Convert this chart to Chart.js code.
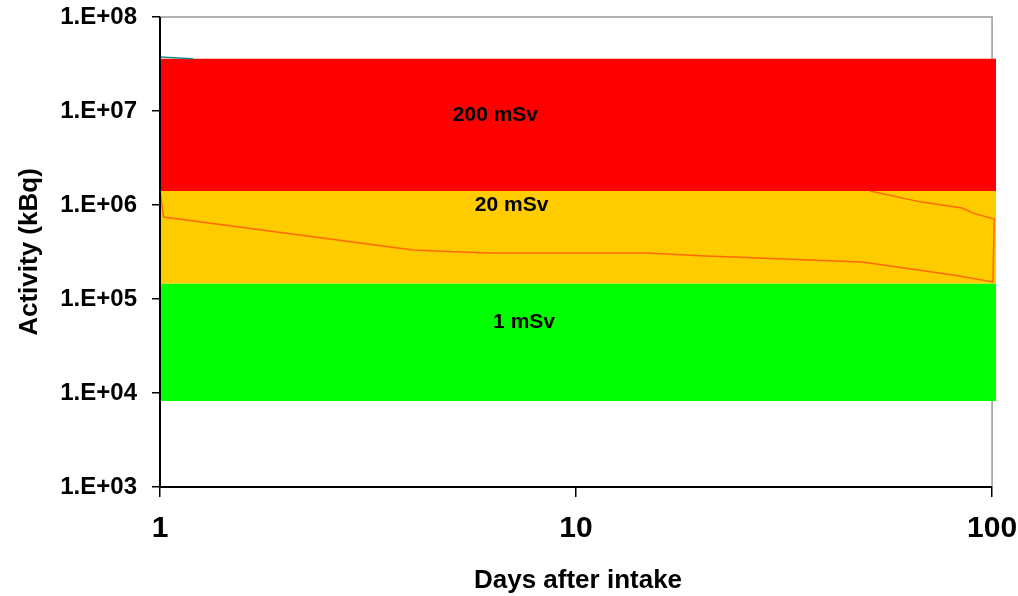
<!DOCTYPE html>
<html>
<head>
<meta charset="utf-8">
<script src="https://cdn.jsdelivr.net/npm/chart.js@4"></script>
<style>
  body { margin: 0; background: #fff; }
  #wrap { width: 1018px; height: 596px; position: relative; }
</style>
</head>
<body>
<div id="wrap"><canvas id="grafico"></canvas></div>
<script>
// datos
var bandDays = [1, 102.2];
var bandTops = [3.6e7, 1.41e6, 1.46e5, 8.2e3]; // rojo, naranja, verde, fondo verde
var bandColors = ['#FF0000', '#FFCC00', '#00FF00'];
var bandNames = ['200 mSv', '20 mSv', '1 mSv'];

var curveDays = [1, 1.02, 4.06, 6.1, 14.8, 19.9, 48.7, 80.6, 100.5, 101.2, 90, 84.7, 67.1, 50.9];
var curveActivity = [1.41e6, 7.45e5, 3.32e5, 3.08e5, 3.08e5, 2.89e5, 2.48e5, 1.8e5, 1.52e5, 7.1e5, 8.2e5, 9.3e5, 1.08e6, 1.41e6];

var tealDays = [1, 1.2];
var tealActivity = [3.75e7, 3.6e7];

var xTicks = [1, 10, 100];
var yTicks = [1e3, 1e4, 1e5, 1e6, 1e7, 1e8];

// donde van los textos de cada banda (dias, kBq)
var nameSpots = [[6.4, 9.1e6], [7.0, 1.0e6], [7.5, 5.6e4]];

var fuente = '"Liberation Sans", Arial, sans-serif';

function pares(xs, ys) {
	return xs.map(function (x, i) { return {x: x, y: ys[i]}; });
}

var datasets = [];
bandTops.forEach(function (nivel, i) {
	datasets.push({
		data: pares(bandDays, bandDays.map(function () { return nivel; })),
		borderWidth: 0,
		pointRadius: 0,
		backgroundColor: bandColors[i] || 'transparent',
		fill: i < bandColors.length ? '+1' : false,
		order: 2
	});
});
datasets.push({
	data: pares(curveDays, curveActivity),
	borderColor: '#FF6A00',
	borderWidth: 1.5,
	pointRadius: 0,
	fill: false,
	order: 1
});
datasets.push({
	data: pares(tealDays, tealActivity),
	borderColor: '#1A8C8C',
	borderWidth: 1.5,
	pointRadius: 0,
	fill: false,
	order: 1
});

var marco = {
	id: 'marco',
	beforeDraw: function (chart) {
		var ctx = chart.ctx, a = chart.chartArea;
		var xr = chart.scales.x.getPixelForValue(100);
		ctx.save();
		ctx.strokeStyle = '#999';
		ctx.lineWidth = 1.5;
		ctx.beginPath();
		ctx.moveTo(a.left, a.top);
		ctx.lineTo(xr, a.top);
		ctx.lineTo(xr, a.bottom);
		ctx.stroke();
		ctx.restore();
	},
	afterDatasetsDraw: function (chart) {
		var ctx = chart.ctx, a = chart.chartArea;
		var sx = chart.scales.x, sy = chart.scales.y;
		var xr = sx.getPixelForValue(100);
		ctx.save();
		ctx.strokeStyle = '#000';
		ctx.lineWidth = 2;
		ctx.beginPath();
		ctx.moveTo(a.left, a.top);
		ctx.lineTo(a.left, a.bottom);
		ctx.lineTo(xr, a.bottom);
		ctx.stroke();
		ctx.fillStyle = '#000';
		ctx.font = 'bold 21px ' + fuente;
		ctx.textAlign = 'center';
		ctx.textBaseline = 'middle';
		bandNames.forEach(function (t, i) {
			ctx.fillText(t, sx.getPixelForValue(nameSpots[i][0]), sy.getPixelForValue(nameSpots[i][1]));
		});
		ctx.restore();
	}
};

new Chart(document.getElementById('grafico'), {
	type: 'line',
	data: {datasets: datasets},
	plugins: [marco],
	options: {
		responsive: true,
		maintainAspectRatio: false,
		animation: false,
		layout: {padding: {top: 17, right: 22, left: 0, bottom: 0}},
		plugins: {legend: {display: false}, tooltip: {enabled: false}},
		scales: {
			x: {
				type: 'logarithmic',
				min: 1,
				max: 102.2,
				afterBuildTicks: function (s) { s.ticks = xTicks.map(function (v) { return {value: v}; }); },
				afterFit: function (s) { s.height = 109; s.paddingLeft = 0; s.paddingRight = 0; },
				border: {display: false},
				grid: {drawOnChartArea: false, drawTicks: true, tickLength: 10, color: '#000', lineWidth: 1.5},
				ticks: {
					autoSkip: false, maxRotation: 0, padding: 14, color: '#000',
					font: {family: fuente, size: 30, weight: 'bold'},
					callback: function (v) { return String(v); }
				},
				title: {display: true, text: 'Days after intake', color: '#000', padding: {top: 0, bottom: 0},
					font: {family: fuente, size: 26, weight: 'bold'}}
			},
			y: {
				type: 'logarithmic',
				min: 1e3,
				max: 1e8,
				afterBuildTicks: function (s) { s.ticks = yTicks.map(function (v) { return {value: v}; }); },
				afterFit: function (s) { s.width = 160; s.paddingTop = 0; s.paddingBottom = 0; },
				border: {display: false},
				grid: {drawOnChartArea: false, drawTicks: true, tickLength: 8, color: '#000', lineWidth: 1.5},
				ticks: {
					autoSkip: false, padding: 15, color: '#000',
					font: {family: fuente, size: 24, weight: 'bold'},
					callback: function (v) {
						var e = Math.round(Math.log10(v));
						return '1.E+' + (e < 10 ? '0' : '') + e;
					}
				},
				title: {display: true, text: 'Activity (kBq)', color: '#000', padding: {top: 14, bottom: 0},
					font: {family: fuente, size: 26, weight: 'bold'}}
			}
		}
	}
});
</script>
</body>
</html>
